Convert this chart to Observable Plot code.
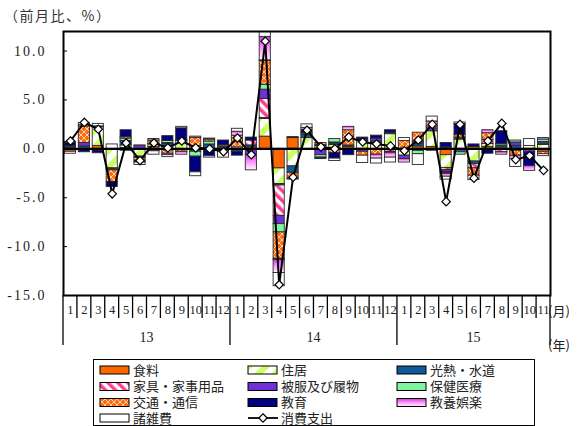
<!DOCTYPE html>
<html>
<head>
<meta charset="utf-8">
<script src="https://cdn.jsdelivr.net/npm/d3@7"></script>
<script src="https://cdn.jsdelivr.net/npm/@observablehq/plot@0.6"></script>
<style>
  body { margin: 0; background: #fff; }
  #wrap { position: relative; width: 587px; height: 426px; overflow: hidden; background: #fff; color: #222; }
  #chart { position: absolute; left: 0; top: 0; }
  #unit { position: absolute; left: 4px; top: 5px; font: 14px "Noto Sans CJK JP", sans-serif; letter-spacing: 1.5px; color: #333; }
  #overlay { position: absolute; left: 0; top: 0; }
</style>
</head>
<body>
<svg width="0" height="0" style="position:absolute">
  <defs>
    <pattern id="pHousing" patternUnits="userSpaceOnUse" width="12" height="12" patternTransform="rotate(45)">
      <rect width="12" height="12" fill="#ffffff"/>
      <rect width="6" height="12" fill="#ccff66"/>
    </pattern>
    <pattern id="pFurniture" patternUnits="userSpaceOnUse" width="7" height="7" patternTransform="rotate(-45)">
      <rect width="7" height="7" fill="#ffffff"/>
      <rect width="3.5" height="7" fill="#ff3f8f"/>
    </pattern>
    <pattern id="pTransport" patternUnits="userSpaceOnUse" width="6" height="6">
      <rect width="6" height="6" fill="#ff6a10"/>
      <path d="M0,0L6,6M6,0L0,6" stroke="#ffd2a8" stroke-width="1"/>
    </pattern>
    <linearGradient id="gCulture" x1="0" y1="0" x2="0" y2="1">
      <stop offset="0" stop-color="#c43ad6"/>
      <stop offset="0.45" stop-color="#ff8cff"/>
      <stop offset="1" stop-color="#fff4ff"/>
    </linearGradient>
  </defs>
</svg>
<div id="wrap">
  <div id="chart"></div>
  <div id="unit">（前月比、%）</div>
</div>
<script>
// Household consumption expenditure, month-on-month change (%), with contributions by item
const categories = ["食料", "住居", "光熱・水道", "家具・家事用品", "被服及び履物", "保健医療", "交通・通信", "教育", "教養娯楽", "諸雑費"];
const totalLabel = "消費支出";

const monthLabels = [1,2,3,4,5,6,7,8,9,10,11,12, 1,2,3,4,5,6,7,8,9,10,11,12, 1,2,3,4,5,6,7,8,9,10,11];
const yearLabels = ["13", "14", "15"];
const yTicks = [-15, -10, -5, 0, 5, 10];

// contributions by item (percentage points), Jan 2013 – Nov 2015
const food      = [-0.3,-0.15,0.3,-0.1,0.1,-0.1,0.2,-0.15,-0.1,0.3,-0.2,-0.1,  -0.15,0.15,1.25,-2.0,1.1,0,0,0.1,0.2,0,-0.1,0,  0,0.25,0.2,-0.65,0,0.2,0.2,0.15,-0.2,0,-0.3];
const housing   = [0,0,1.9,-1.9,0.25,-0.7,0.25,0.3,0.8,0,0,0,  0.15,0,1.8,-1.6,-1.8,1.1,0.3,0.3,0,0.8,0.6,1.5,  -0.7,-0.2,1.6,-1.3,0.95,-1.3,0.3,0,0,0.3,0.4];
const utilities = [0.15,0.25,-0.2,-0.1,0.45,-0.15,0.05,0.2,0.1,-0.3,0.45,0.2,  -0.15,0.2,0.1,-0.15,-0.65,0.3,0.1,0.15,0.15,0.15,0.15,0.15,  0,0.3,0,0.15,0.2,-0.25,0,0.2,0.3,0,0.15];
const furniture = [0.05,0,0,-0.1,0,0,0,0,0,0,0,0,  0,0.5,1.95,-3.1,0,0.15,0,0,0,0,0,-0.3,  0,0,-0.2,-0.2,0,-0.45,0.4,-0.35,0,0,0];
const clothing  = [0,0.35,0,0,-0.1,0.3,0,0.1,0,0,0,-0.1,  0,-0.6,0.95,-0.85,0,0,-0.65,0.1,0,-0.3,0.3,-0.1,  -0.35,0.2,0.3,-0.2,-0.35,0,0,0,0.35,-0.35,0.15];
const medical   = [0.1,0,0,0,0.25,0,-0.2,0.2,0,-0.5,0.3,0,  0,0,0.5,-0.85,0,0.1,-0.25,0.35,0,0,0,0,  0,-0.35,0,-0.1,-0.25,0,0,0.15,0.2,0,0.25];
const transport = [0,1.7,0.1,-1.2,0.15,-0.25,0.35,-0.35,-0.2,0.8,0.2,0.15,  1.2,0,2.45,-2.7,-0.6,0,0.2,-0.45,1.55,-0.4,-0.5,0,  0.8,0.9,0.2,-0.1,0.3,-0.75,0.7,0,-0.5,0,-0.25];
const education = [0.3,-0.2,-0.25,-0.5,0.7,-0.2,-0.05,0.5,1.2,-1.6,-0.55,0.5,  -0.4,0.3,0.05,-0.1,0.1,0.3,-0.15,-0.55,-0.65,0.2,0.3,0.25,  0,0,0,0.45,1.1,0.25,-0.5,1.3,0,-1.4,0];
const culture   = [0.1,0.15,0,0,0,0.05,0.15,-0.15,-0.3,0.15,0.1,0,  0.4,-1.6,2.4,-1.35,0,0.2,0,0,0.35,0,-0.4,-0.5,  -0.35,0,0.5,-0.3,0,0,0.3,-0.25,-0.35,-0.5,0.15];
const misc      = [-0.2,0.2,0.25,0.45,-0.1,-0.25,-0.35,-0.2,0.15,-0.4,-0.15,-0.7,  0.3,0,1.0,-1.35,-0.1,0.35,0,-0.25,0,-0.75,-0.5,-0.5,  0.3,-1.1,0.5,-0.3,0.15,-0.45,0,0,-0.8,0.7,-0.2];

// total consumption expenditure, month-on-month (%)
const totalSpending = [0.8,2.7,2.0,-4.6,0.6,-1.2,0.6,0.1,0.8,0.1,0.0,-0.3,  1.1,-0.6,11.0,-13.9,-2.9,1.9,0.2,0.0,1.2,0.7,0.5,0.3,  -0.2,0.9,2.5,-5.4,2.5,-3.0,0.8,2.6,-1.1,-0.7,-2.2];

const series = [food, housing, utilities, furniture, clothing, medical, transport, education, culture, misc];
const fills = ["#ff6600", "url(#pHousing)", "#11589a", "url(#pFurniture)", "#7030d8", "#80f5a0", "url(#pTransport)", "#000080", "url(#gCulture)", "#ffffff"];

const rows = [];
categories.forEach((cat, c) => series[c].forEach((v, i) => { if (v !== 0) rows.push({i, cat, v}); }));
const totals = totalSpending.map((v, i) => ({i, v}));
const idx = monthLabels.map((m, i) => i);

const plot = Plot.plot({
  width: 587,
  height: 355,
  marginTop: 31,
  marginBottom: 60,
  marginLeft: 63,
  marginRight: 37,
  style: {background: "transparent", fontFamily: "'Liberation Serif', serif", fontSize: "13px", color: "#222", overflow: "visible"},
  x: {type: "band", domain: idx, paddingInner: 0.2, paddingOuter: 0.1, round: false, axis: null},
  y: {domain: [-15, 12], axis: null},
  color: {domain: categories, range: fills},
  marks: [
    Plot.barY(rows, Plot.stackY({x: "i", y: "v", fill: "cat", stroke: "#2a2a2a", strokeWidth: 0.9, clip: true})),
    Plot.ruleY([0], {stroke: "#000", strokeWidth: 2.2}),
    Plot.line(totals, {x: "i", y: "v", stroke: "#000", strokeWidth: 2}),
    Plot.dot(totals, {x: "i", y: "v", symbol: "diamond2", r: 3.8, fill: "#fff", stroke: "#000", strokeWidth: 1.2}),
    Plot.tickY(yTicks, {y: d => d, stroke: "#000", insetRight: 483}),
    Plot.axisY(yTicks, {label: null, tickSize: 0, tickPadding: 17, fontSize: 14, tickFormat: d => d.toFixed(1)}),
    Plot.axisX(idx, {label: null, tickSize: 0, tickPadding: 10, fontSize: 12.5, tickFormat: i => monthLabels[i]}),
    Plot.frame({stroke: "#000", strokeWidth: 2})
  ]
});
document.getElementById("chart").appendChild(plot);

// y tick labels spaced like the fixed-width numerals
d3.select(plot).selectAll('g[aria-label="y-axis tick label"] text').style("letter-spacing", "2px");

// month separators, year dividers and year labels under the axis
const xs = plot.scale("x");
const ys = plot.scale("y");
const n = monthLabels.length;
const step = (xs.range[1] - xs.range[0]) / n;
const left = xs.range[0];
const bottom = ys.apply(-15);
const svg = d3.select(plot);
const g = svg.append("g").attr("stroke", "#000").attr("stroke-width", 1.3);
const yearStarts = [];
monthLabels.forEach((m, i) => { if (m === 1) yearStarts.push(i); });
for (let k = 0; k <= n; k++) {
  const isYear = yearStarts.includes(k) || k === n;
  const xk = left + k * step;
  g.append("line").attr("x1", xk).attr("x2", xk).attr("y1", bottom).attr("y2", bottom + (isYear ? 50 : 23));
}
yearLabels.forEach((yl, j) => {
  const a = yearStarts[j];
  const b = j + 1 < yearStarts.length ? yearStarts[j + 1] : n;
  svg.append("text")
    .attr("x", left + (a + b) / 2 * step)
    .attr("y", bottom + 47)
    .attr("text-anchor", "middle")
    .attr("font-size", 14)
    .attr("fill", "#222")
    .text(yl);
});
svg.append("text").attr("x", 559).attr("y", bottom + 21).attr("font-size", 13)
  .attr("font-family", "'Noto Sans CJK JP', sans-serif").attr("fill", "#222").text("(月)");
svg.append("text").attr("x", 559).attr("y", bottom + 55).attr("font-size", 13)
  .attr("font-family", "'Noto Sans CJK JP', sans-serif").attr("fill", "#222").text("(年)");

// legend
const legend = d3.select("#wrap").append("svg")
  .attr("id", "overlay").attr("width", 587).attr("height", 426)
  .style("font-family", "'Noto Sans CJK JP', sans-serif");
legend.append("rect").attr("x", 93.5).attr("y", 359.5).attr("width", 441).attr("height", 66)
  .attr("fill", "none").attr("stroke", "#000");
const colX = [100, 248, 397];
const rowY = [370, 386.5, 402.5, 418];
const items = categories.map((c, k) => ({label: c, fill: fills[k]})).concat([{label: totalLabel, line: true}]);
items.forEach((it, k) => {
  const cx = colX[k % 3], cy = rowY[Math.floor(k / 3)];
  if (it.line) {
    legend.append("line").attr("x1", cx).attr("x2", cx + 30).attr("y1", cy).attr("y2", cy).attr("stroke", "#000").attr("stroke-width", 1.8);
    legend.append("path").attr("d", d3.symbol(d3.symbolDiamond2, 45)()).attr("transform", `translate(${cx + 15},${cy})`)
      .attr("fill", "#fff").attr("stroke", "#000").attr("stroke-width", 1.2);
  } else {
    legend.append("rect").attr("x", cx).attr("y", cy - 4).attr("width", 29).attr("height", 8)
      .attr("fill", it.fill).attr("stroke", "#000").attr("stroke-width", 1);
  }
  legend.append("text").attr("x", cx + 33).attr("y", cy).attr("dy", "0.36em")
    .attr("font-size", 13).attr("fill", "#222").text(it.label);
});
</script>
</body>
</html>
